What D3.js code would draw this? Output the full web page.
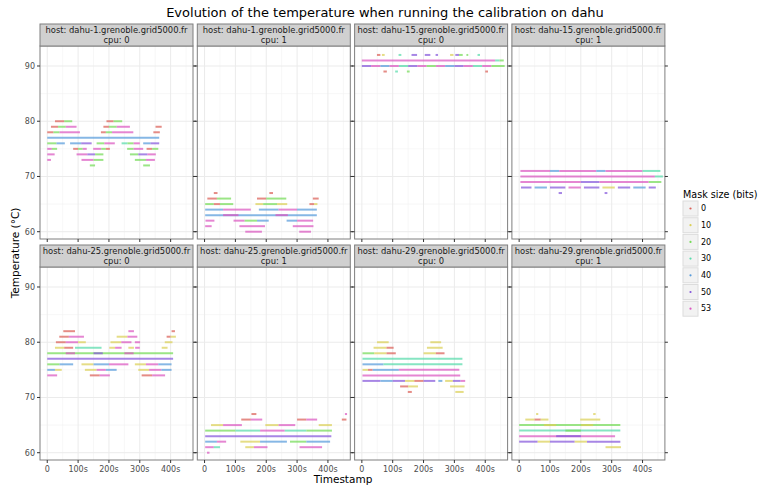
<!DOCTYPE html>
<html>
<head>
<meta charset="utf-8">
<script src="https://cdn.jsdelivr.net/npm/d3@7"></script>
<style>
  body { margin: 0; background: #fff; }
  text { font-family: "DejaVu Sans", sans-serif; }
</style>
</head>
<body>
<div id="chart-area"></div>
<script>
// mask sizes (legend order) and tick labels
var masks = [0, 10, 20, 30, 40, 50, 53];
var xTicks = [0, 100, 200, 300, 400];
var xTickLabels = ['0', '100s', '200s', '300s', '400s'];
var yTicks = [60, 70, 80, 90];

var hosts = ['dahu-1.grenoble.grid5000.fr', 'dahu-1.grenoble.grid5000.fr',
             'dahu-15.grenoble.grid5000.fr', 'dahu-15.grenoble.grid5000.fr',
             'dahu-25.grenoble.grid5000.fr', 'dahu-25.grenoble.grid5000.fr',
             'dahu-29.grenoble.grid5000.fr', 'dahu-29.grenoble.grid5000.fr'];
var cpus = [0, 1, 0, 1, 0, 1, 0, 1];

// runs of readings: [temperature, start (s), end (s), mask size]
var dahu1cpu0 = [
  [80,25,55,0],[80,55,81,20],[80,192,215,0],[80,215,243,20],
  [79,12,35,0],[79,35,60,20],[79,60,95,53],[79,182,200,0],[79,200,225,20],[79,225,268,53],[79,351,371,0],
  [78,0,20,0],[78,20,40,20],[78,40,106,53],[78,174,190,0],[78,190,210,20],[78,210,279,53],[78,344,365,0],
  [77,0,363,40],
  [76,0,30,20],[76,30,57,40],[76,74,110,40],[76,110,144,50],[76,160,185,20],[76,185,219,53],[76,241,260,30],
  [76,260,280,20],[76,280,300,53],[76,311,335,40],[76,335,363,50],
  [75,0,15,53],[75,15,32,20],[75,84,100,0],[75,100,115,20],[75,115,128,53],[75,149,175,53],[75,175,190,20],
  [75,190,203,0],[75,259,280,20],[75,280,311,53],[75,322,340,0],[75,340,360,20],
  [74,0,24,53],[74,95,130,53],[74,130,155,50],[74,155,182,20],[74,268,295,20],[74,295,325,50],[74,325,352,53],
  [73,0,12,53],[73,111,150,53],[73,150,182,20],[73,284,320,20],[73,320,349,53],
  [72,138,155,20],[72,311,333,20]
];
var dahu1cpu1 = [
  [67,30,42,0],[67,210,222,0],
  [66,9,40,0],[66,40,86,20],[66,170,200,0],[66,200,265,20],[66,351,370,0],
  [65,2,30,20],[65,30,50,0],[65,50,93,20],[65,165,190,10],[65,190,235,20],[65,235,268,10],[65,340,355,0],[65,355,366,10],
  [64,2,60,40],[64,60,150,53],[64,176,240,40],[64,240,300,53],[64,300,364,40],
  [63,2,364,40],[63,60,110,53],[63,230,270,53],
  [62,3,32,53],[62,94,130,53],[62,130,170,20],[62,170,208,40],[62,266,300,40],[62,300,352,53],
  [61,2,23,53],[61,113,196,53],[61,286,353,53],
  [60,132,186,53],[60,307,345,53]
];
var dahu15cpu0 = [
  [92,49,60,0],[92,65,74,10],[92,119,128,30],[92,161,179,50],[92,204,222,50],[92,239,247,50],
  [92,286,297,10],[92,303,315,50],[92,315,327,20],[92,339,345,20],[92,375,383,30],
  [91,0,432,53],[91,432,446,30],[91,446,460,20],
  [90,0,30,50],[90,30,60,53],[90,60,90,40],[90,90,120,53],[90,120,150,30],[90,150,180,50],[90,180,210,53],
  [90,210,240,20],[90,240,270,53],[90,270,300,40],[90,300,330,50],[90,330,360,53],[90,360,390,30],
  [90,390,420,53],[90,420,463,20],
  [89,70,81,0],[89,108,117,30],[89,146,155,20],[89,400,409,0]
];
var dahu15cpu1 = [
  [71,4,100,53],[71,100,130,40],[71,130,250,53],[71,250,280,40],[71,280,400,53],[71,400,458,30],
  [70,4,440,53],[70,440,466,30],
  [69,4,200,53],[69,200,260,50],[69,260,420,53],[69,420,461,20],
  [68,6,40,50],[68,50,90,40],[68,100,150,50],[68,160,200,53],[68,210,260,50],[68,270,310,10],
  [68,320,360,50],[68,370,410,40],[68,420,443,50],
  [67,128,139,50],[67,277,286,50]
];
var dahu25cpu0 = [
  [82,52,90,0],[82,263,281,53],[82,403,414,0],
  [81,39,70,0],[81,70,119,53],[81,225,260,10],[81,260,292,53],[81,387,400,0],[81,400,417,10],
  [80,28,60,0],[80,60,100,53],[80,100,125,10],[80,205,240,10],[80,240,273,53],[80,284,301,53],[80,381,406,10],
  [79,25,55,10],[79,55,84,0],[79,90,176,30],[79,201,220,10],[79,220,241,53],[79,263,281,10],[79,285,300,53],[79,371,390,10],
  [78,0,408,20],[78,60,90,53],[78,150,180,50],[78,250,280,53],
  [77,0,408,50],
  [76,0,40,20],[76,40,84,40],[76,111,150,10],[76,150,200,40],[76,200,263,53],[76,284,320,10],[76,320,360,53],[76,360,403,40],
  [75,0,25,40],[75,25,47,10],[75,122,160,10],[75,160,190,53],[75,190,225,40],[75,295,330,10],[75,330,370,53],[75,370,403,40],
  [74,0,32,53],[74,138,170,0],[74,170,203,53],[74,306,340,0],[74,340,382,53]
];
var dahu25cpu1 = [
  [67,152,168,0],[67,455,462,53],
  [66,119,150,0],[66,150,187,53],[66,300,330,0],[66,330,365,53],[66,445,460,0],
  [65,21,60,10],[65,60,121,53],[65,197,240,10],[65,240,294,53],[65,370,413,10],
  [64,2,100,20],[64,100,180,30],[64,180,260,53],[64,260,330,30],[64,330,413,20],
  [63,2,411,50],
  [62,2,40,40],[62,40,70,53],[62,116,180,10],[62,180,267,40],[62,277,330,20],[62,330,407,40],
  [61,2,30,53],[61,30,50,30],[61,132,160,10],[61,160,204,53],[61,308,381,53],
  [60,8,16,53]
];
var dahu29cpu0 = [
  [80,49,87,10],[80,222,257,10],
  [79,38,80,10],[79,80,103,0],[79,211,262,10],
  [78,2,40,20],[78,40,80,10],[78,80,110,0],[78,200,240,10],[78,240,268,0],
  [77,2,326,30],
  [76,2,70,40],[76,70,326,30],
  [75,2,20,10],[75,20,35,0],[75,35,120,40],[75,120,316,53],
  [74,2,319,53],
  [73,2,60,50],[73,60,100,40],[73,100,140,50],[73,140,170,10],[73,170,200,0],[73,200,238,50],
  [73,248,261,40],[73,270,295,10],[73,295,320,50],[73,320,335,53],
  [72,124,150,0],[72,150,182,10],[72,286,333,10],
  [71,149,162,0],[71,303,330,10]
];
var dahu29cpu1 = [
  [67,55,62,10],[67,240,248,10],
  [66,20,50,10],[66,50,70,0],[66,70,95,10],[66,198,263,10],
  [65,0,328,20],[65,80,120,10],[65,200,240,10],
  [64,0,328,30],[64,150,200,20],
  [63,0,311,53],[63,120,200,50],
  [62,0,60,50],[62,60,100,10],[62,100,180,50],[62,180,220,10],[62,220,328,50],
  [61,280,330,10]
];

var runsByPanel = [dahu1cpu0, dahu1cpu1, dahu15cpu0, dahu15cpu1,
                   dahu25cpu0, dahu25cpu1, dahu29cpu0, dahu29cpu1];

var W = 765, H = 487;
var panelW = 153, panelH = 193, stripH = 22;
var lefts = [40, 197.3, 354.6, 511.9];
var tops = [46, 267];

var color = d3.scaleOrdinal()
  .domain(masks)
  .range(masks.map((m, i) => d3.hsl(360 * (0.01 + i / 7), 0.65, 0.6).formatHex()));

var x = d3.scaleLinear().domain([-23.5, 472.5]).range([0, panelW]);
var y = d3.scaleLinear().domain([58.68, 93.62]).range([panelH, 0]);

var svg = d3.select('#chart-area').append('svg')
  .attr('width', W).attr('height', H);

svg.append('text')
  .attr('x', 385).attr('y', 17)
  .attr('text-anchor', 'middle')
  .attr('font-size', 13)
  .attr('fill', '#000')
  .text('Evolution of the temperature when running the calibration on dahu');

runsByPanel.forEach(function (runs, i) {
  var col = i % 4, row = Math.floor(i / 4);
  var g = svg.append('g')
    .attr('transform', 'translate(' + lefts[col] + ',' + tops[row] + ')');

  // grid
  var xMinor = [50, 150, 250, 350, 450], yMinor = [65, 75, 85];
  g.selectAll('.xminor').data(xMinor).enter().append('line')
    .attr('x1', d => x(d)).attr('x2', d => x(d)).attr('y1', 0).attr('y2', panelH)
    .attr('stroke', '#f2f2f2').attr('stroke-width', 0.6);
  g.selectAll('.yminor').data(yMinor).enter().append('line')
    .attr('y1', d => y(d)).attr('y2', d => y(d)).attr('x1', 0).attr('x2', panelW)
    .attr('stroke', '#f2f2f2').attr('stroke-width', 0.6);
  g.selectAll('.xmajor').data(xTicks).enter().append('line')
    .attr('x1', d => x(d)).attr('x2', d => x(d)).attr('y1', 0).attr('y2', panelH)
    .attr('stroke', '#ebebeb').attr('stroke-width', 1);
  g.selectAll('.ymajor').data(yTicks).enter().append('line')
    .attr('y1', d => y(d)).attr('y2', d => y(d)).attr('x1', 0).attr('x2', panelW)
    .attr('stroke', '#ebebeb').attr('stroke-width', 1);

  // readings
  g.selectAll('.run').data(runs).enter().append('line')
    .attr('x1', d => x(d[1])).attr('x2', d => x(d[2]))
    .attr('y1', d => y(d[0])).attr('y2', d => y(d[0]))
    .attr('stroke', d => color(d[3]))
    .attr('stroke-width', 2)
    .attr('stroke-opacity', 0.72);

  // border
  g.append('rect').attr('width', panelW).attr('height', panelH)
    .attr('fill', 'none').attr('stroke', '#7f7f7f').attr('stroke-width', 1);

  // ticks left / right / bottom
  g.selectAll('.tl').data(yTicks).enter().append('line')
    .attr('x1', -3).attr('x2', 0).attr('y1', d => y(d)).attr('y2', d => y(d))
    .attr('stroke', '#333').attr('stroke-width', 1);
  g.selectAll('.tr').data(yTicks).enter().append('line')
    .attr('x1', panelW).attr('x2', panelW + 3).attr('y1', d => y(d)).attr('y2', d => y(d))
    .attr('stroke', '#333').attr('stroke-width', 1);
  g.selectAll('.tb').data(xTicks).enter().append('line')
    .attr('x1', d => x(d)).attr('x2', d => x(d)).attr('y1', panelH).attr('y2', panelH + 3)
    .attr('stroke', '#333').attr('stroke-width', 1);

  if (col === 0) {
    g.selectAll('.yl').data(yTicks).enter().append('text')
      .attr('x', -5).attr('y', d => y(d)).attr('dy', '0.35em')
      .attr('text-anchor', 'end').attr('font-size', 8).attr('fill', '#4d4d4d')
      .text(d => d);
  }
  if (row === 1) {
    g.selectAll('.xl').data(xTicks).enter().append('text')
      .attr('x', d => x(d)).attr('y', panelH + 12)
      .attr('text-anchor', 'middle').attr('font-size', 8).attr('fill', '#4d4d4d')
      .text((d, k) => xTickLabels[k]);
  }

  // strip
  g.append('rect').attr('y', -stripH).attr('width', panelW).attr('height', stripH)
    .attr('fill', '#d0d0d0').attr('stroke', '#7f7f7f').attr('stroke-width', 1);
  g.append('text').attr('x', panelW / 2).attr('y', -13)
    .attr('text-anchor', 'middle').attr('font-size', 8.4).attr('fill', '#1a1a1a')
    .text('host: ' + hosts[i]);
  g.append('text').attr('x', panelW / 2).attr('y', -3.5)
    .attr('text-anchor', 'middle').attr('font-size', 8.4).attr('fill', '#1a1a1a')
    .text('cpu: ' + cpus[i]);
});

// axis titles
svg.append('text')
  .attr('x', 343).attr('y', 483)
  .attr('text-anchor', 'middle').attr('font-size', 10.5).attr('fill', '#000')
  .text('Timestamp');
svg.append('text')
  .attr('transform', 'translate(19,253) rotate(-90)')
  .attr('text-anchor', 'middle').attr('font-size', 10.5).attr('fill', '#000')
  .text('Temperature (°C)');

// legend
var lg = svg.append('g').attr('transform', 'translate(683,0)');
lg.append('text').attr('x', 0).attr('y', 198)
  .attr('font-size', 9.6).attr('fill', '#000').text('Mask size (bits)');
var keys = lg.selectAll('.key').data(masks).enter().append('g')
  .attr('transform', (d, i) => 'translate(0,' + (201 + i * 16.7) + ')');
keys.append('rect').attr('width', 15).attr('height', 15)
  .attr('fill', '#f2f2f2').attr('stroke', '#dcdcdc').attr('stroke-width', 1);
keys.append('circle').attr('cx', 7.5).attr('cy', 7.5).attr('r', 1.1)
  .attr('fill', d => color(d));
keys.append('text').attr('x', 18).attr('y', 7.5).attr('dy', '0.35em')
  .attr('font-size', 8).attr('fill', '#000').text(d => d);
</script>
</body>
</html>
